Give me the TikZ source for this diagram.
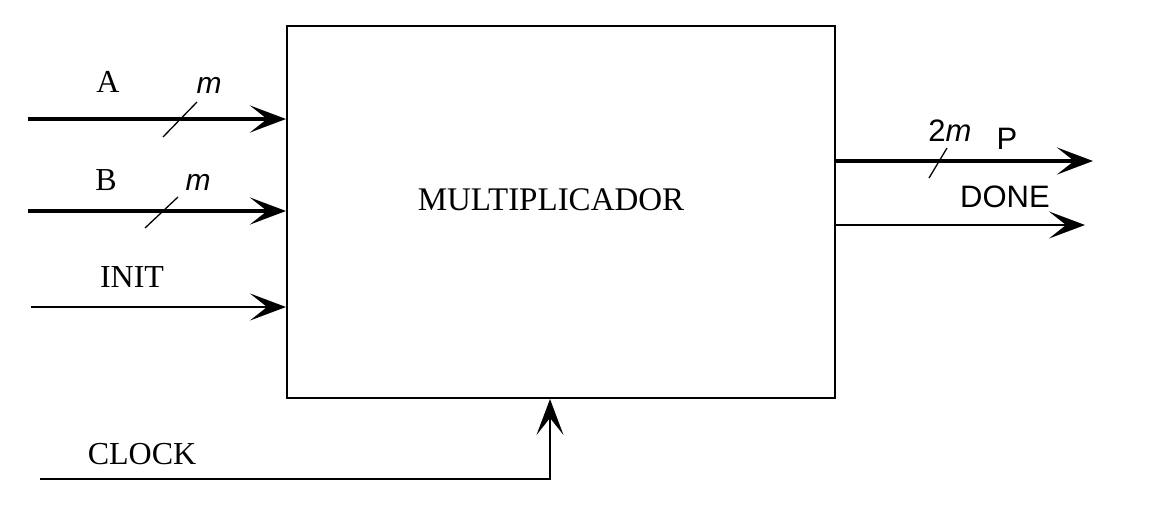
\documentclass[tikz,border=0pt]{standalone}
\usepackage{fontspec}
\setmainfont{Liberation Serif}
\newfontfamily\arialfont{Liberation Sans}
\usetikzlibrary{arrows.meta}
\tikzset{
  barb/.style={-{Stealth[length=36pt,width=27pt,inset=17pt]}},
  busline/.style={barb, line width=4pt},
  sigline/.style={barb, line width=2pt},
  slash/.style={line width=1.3pt},
  serlabel/.style={font=\fontsize{32}{32}\selectfont, inner sep=0pt},
  sanlabel/.style={font=\arialfont\fontsize{31}{31}\selectfont, inner sep=0pt},
  widthlabel/.style={font=\arialfont\itshape\fontsize{30}{30}\selectfont, inner sep=0pt},
}
\begin{document}
\begin{tikzpicture}[x=1pt,y=-1pt]
\useasboundingbox (0,0) rectangle (1176,528);
\node[draw, line width=2pt, minimum width=548pt, minimum height=372pt, inner sep=0pt,
      font=\fontsize{33}{33}\selectfont] (mult) at (561,212) {};
\node[font=\fontsize{33}{33}\selectfont, inner sep=0pt] (title) at (551,200) {MULTIPLICADOR};
% inputs
\coordinate (aS) at (28,119);
\coordinate (bS) at (28,211);
\coordinate (iS) at (31,307);
\coordinate (cS) at (40,479);
\coordinate (cK) at (550,479);
\draw[busline] (aS) -- (aS -| mult.west);
\draw[busline] (bS) -- (bS -| mult.west);
\draw[sigline] (iS) -- (iS -| mult.west);
\draw[sigline] (cS) -- (cK) -- (cK |- mult.south);
% outputs
\coordinate (pS) at (mult.east |- 0,161);
\coordinate (pE) at (1093,161);
\coordinate (dS) at (mult.east |- 0,225);
\coordinate (dE) at (1085,225);
\draw[busline] (pS) -- (pE);
\draw[sigline] (dS) -- (dE);
% bus slashes
\coordinate (sa1) at (163,137); \coordinate (sa2) at (197,102);
\coordinate (sb1) at (145,228); \coordinate (sb2) at (178,197);
\coordinate (sp1) at (929,178); \coordinate (sp2) at (947,148);
\draw[slash] (sa1) -- (sa2);
\draw[slash] (sb1) -- (sb2);
\draw[slash] (sp1) -- (sp2);
% labels
\node[serlabel] (la) at (108,82) {A};
\node[widthlabel] (ma) at (209,85) {m};
\node[serlabel] (lb) at (106,180) {B};
\node[widthlabel] (mb) at (198,182) {m};
\node[serlabel] (li) at (132,277) {INIT};
\node[serlabel] (lc) at (142,454) {CLOCK};
\node[sanlabel] (m2) at (950,131) {2\textit{m}};
\node[sanlabel] (lp) at (1007,139) {P};
\node[sanlabel] (ld) at (1005,197) {DONE};
\end{tikzpicture}
\end{document}
